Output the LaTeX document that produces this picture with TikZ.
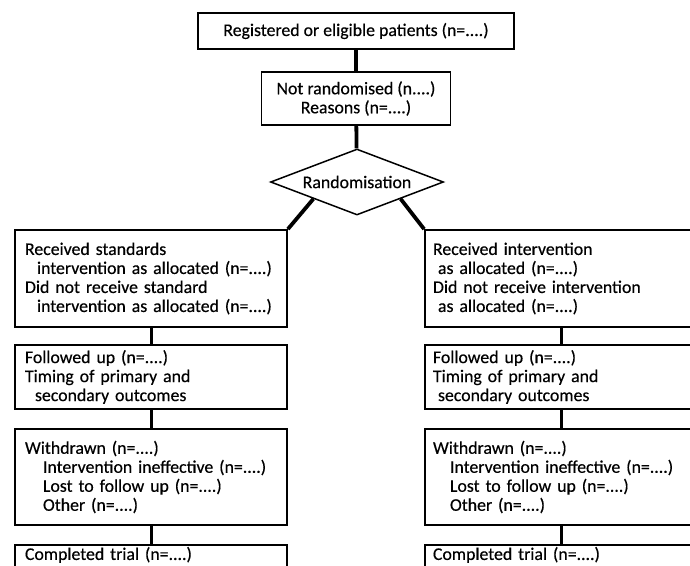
\documentclass[tikz,border=0pt]{standalone}
\usepackage{fontspec}
\setmainfont[FakeBold=0.4]{Carlito}
\usetikzlibrary{shapes.geometric,calc,positioning}

\begin{document}
\begin{tikzpicture}[x=1pt, y=-1pt,
        every node/.style={font=\fontsize{17.8}{19}\selectfont},
        topbox/.style={draw, line width=1.8pt, inner sep=0pt, align=center},
        colbox/.style={draw, line width=1.8pt, align=left, text width=256pt, inner xsep=8pt},
        link/.style={line width=3.8pt},
        sublink/.style={line width=3pt}]
    \useasboundingbox (0,0) rectangle (690,565);
    \clip (0,0) rectangle (690,565);

    % trunk
    \node[topbox, minimum width=316pt, minimum height=36pt] (reg) at (356,31) {Registered or eligible patients~(n=....)};
    \node[topbox, minimum width=189pt, minimum height=53pt] (notrand) at (356,98.5) {Not randomised~(n....)\\Reasons~(n=....)};
    \node[draw, diamond, line width=1.5pt, inner sep=0pt, aspect=2.6, minimum width=173pt, minimum height=66pt] (rand) at (357,182) {Randomisation};

    % standard arm
    \node[colbox, minimum height=97pt] (recL) at (151,278.5) {\hspace*{2pt}Received standards\\
        \hspace*{14pt}intervention~as~allocated~(n=....)\\
        \hspace*{2pt}Did not receive standard\\
        \hspace*{14pt}intervention~as~allocated~(n=....)};
    \node[colbox, minimum height=64pt] (folL) at (151,377) {\hspace*{2pt}Followed up~(n=....)\\
        \hspace*{2pt}Timing of primary and\\
        \hspace*{12pt}secondary outcomes};
    \node[colbox, minimum height=96pt] (witL) at (151,477) {\hspace*{2pt}Withdrawn~(n=....)\\
        \hspace*{20pt}Intervention~ineffective~(n=....)\\
        \hspace*{20pt}Lost to follow up~(n=....)\\
        \hspace*{20pt}Other~(n=....)};
    \node[colbox, anchor=north, inner ysep=2pt, text depth=30pt] (comL) at (151,544) {\hspace*{2pt}Completed trial~(n=....)};

    % intervention arm
    \node[colbox, minimum height=97pt] (recR) at (561,278.5) {Received intervention\\
        \hspace*{5pt}as allocated~(n=....)\\
        Did not receive intervention\\
        \hspace*{5pt}as allocated~(n=....)};
    \node[colbox, minimum height=64pt] (folR) at (561,377) {Followed up~(n=....)\\
        Timing of primary and\\
        \hspace*{5pt}secondary outcomes};
    \node[colbox, minimum height=96pt] (witR) at (561,477) {Withdrawn~(n=....)\\
        \hspace*{17pt}Intervention~ineffective~(n=....)\\
        \hspace*{17pt}Lost to follow up~(n=....)\\
        \hspace*{17pt}Other~(n=....)};
    \node[colbox, anchor=north, inner ysep=2pt, text depth=30pt] (comR) at (561,544) {Completed trial~(n=....)};

    \draw[link]
    (reg) -- (notrand) -- (rand)
    ($(rand.west)!0.5!(rand.south)$) -- (recL.north east)
    ($(rand.east)!0.5!(rand.south)$) -- (recR.north west);
    \draw[sublink]
    (recL) -- (folL) -- (witL) -- (comL)
    (recR) -- (folR) -- (witR) -- (comR);
\end{tikzpicture}
\end{document}
